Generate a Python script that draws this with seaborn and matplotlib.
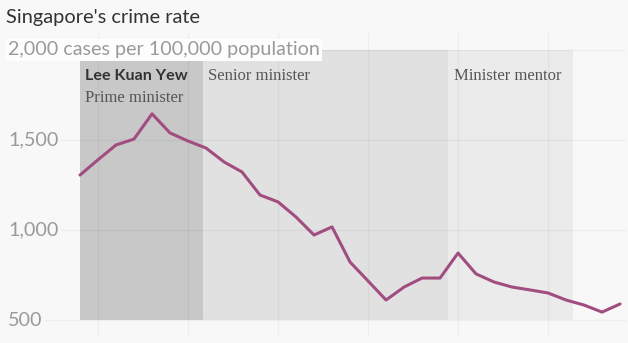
import matplotlib
matplotlib.use("Agg")
import matplotlib.pyplot as plt
import matplotlib.transforms as mtransforms
import seaborn as sns
import pandas as pd

# ---- data ----
years = list(range(1984, 2015))
crime_rate = [1305, 1390, 1472, 1505, 1645, 1539, 1494, 1455, 1378, 1322,
              1194, 1156, 1072, 972, 1017, 822, 717, 611, 683, 733,
              733, 872, 756, 711, 683, 667, 650, 611, 583, 544, 589]
period_labels = ["Prime minister", "Senior minister", "Minister mentor"]
period_starts = [1984, 1990.83, 2004.45]
period_ends = [1990.83, 2004.45, 2011.38]
ytick_values = [500, 1000, 1500, 2000]
ytick_labels = ["500", "1,000", "1,500", "2,000 cases per 100,000 population"]
xgrid_years = [1985, 1990, 1995, 2000, 2005, 2010]
title = "Singapore's crime rate"

# ---- style ----
sns.set_theme(style="white")
plt.rcParams['font.family'] = ['Lato', 'DejaVu Sans']

BG = "#f8f8f8"
fig = plt.figure(figsize=(6.28, 3.43), dpi=100, facecolor=BG)
W, H = 628, 343
ax = fig.add_axes([8 / W, 6 / H, 618 / W, 304 / H])
ax.set_facecolor(BG)

df = pd.DataFrame({"year": years, "rate": crime_rate})

# shaded periods
span_colors = ["#c8c8c8", "#e1e1e1", "#ebebeb"]
for s, e, c in zip(period_starts, period_ends, span_colors):
    ax.fill_between([s, e], 500, 2000, color=c, lw=0, zorder=1)

# grid
for xv in xgrid_years:
    ax.axvline(xv, color="k", alpha=0.045, lw=1, zorder=2)
for yv in ytick_values:
    ax.axhline(yv, color="k", alpha=0.045, lw=1, zorder=2)

sns.lineplot(data=df, x="year", y="rate", ax=ax, color="#a24d80",
             linewidth=2.2, zorder=5)

ax.set_xlim(1980, 2014.33)
ax.set_ylim(405.6, 2094)
ax.set_xticks([])
ax.set_yticks([])
ax.set_xlabel("")
ax.set_ylabel("")
for sp in ax.spines.values():
    sp.set_visible(False)

# y tick labels as text with background
trans = mtransforms.blended_transform_factory(ax.transAxes, ax.transData)
for v, lab in zip(ytick_values, ytick_labels):
    ax.text(0.0, v, lab, transform=trans, ha="left", va="center",
            fontsize=14.2, color="#9a9a9a", zorder=6,
            bbox=dict(boxstyle="square,pad=0.12", fc="#fdfdfd" if v == 2000 else BG,
                      ec="none"))

# period annotations
ax.text(1984.25, 1857, "Lee Kuan Yew", fontsize=11.6, fontweight="bold",
        color="#333333", ha="left", va="center", zorder=6)
serif = ['Liberation Serif', 'DejaVu Serif']
ax.text(1984.25, 1735, period_labels[0], fontsize=12, family=serif,
        color="#555555", ha="left", va="center", zorder=6)
ax.text(period_starts[1] + 0.27, 1857, period_labels[1], fontsize=12, family=serif,
        color="#555555", ha="left", va="center", zorder=6)
ax.text(period_starts[2] + 0.3, 1857, period_labels[2], fontsize=12, family=serif,
        color="#555555", ha="left", va="center", zorder=6)

fig.text(6 / W, 1 - 17 / H, title, fontsize=14.4, color="#333333",
         ha="left", va="center")

fig.savefig("out.png", dpi=100, facecolor=BG)
